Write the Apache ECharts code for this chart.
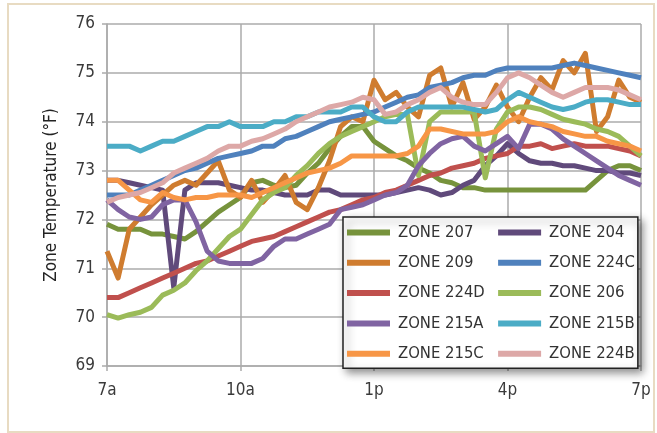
<!DOCTYPE html>
<html>
<head>
<meta charset="utf-8">
<title>Zone Temperature</title>
<script src="https://cdn.jsdelivr.net/npm/echarts@6/dist/echarts.min.js"></script>
</head>
<body style="margin:0;background:#fff;">
<div id="main" style="width:657px;height:433px;"></div>
<script>
// 15-minute readings, 7a to 7p
var times = ['7a','7:15a','7:30a','7:45a','8a','8:15a','8:30a','8:45a','9a','9:15a','9:30a','9:45a',
  '10a','10:15a','10:30a','10:45a','11a','11:15a','11:30a','11:45a','12p','12:15p','12:30p','12:45p',
  '1p','1:15p','1:30p','1:45p','2p','2:15p','2:30p','2:45p','3p','3:15p','3:30p','3:45p',
  '4p','4:15p','4:30p','4:45p','5p','5:15p','5:30p','5:45p','6p','6:15p','6:30p','6:45p','7p'];

var zone207 = [71.9,71.8,71.8,71.8,71.7,71.7,71.65,71.6,71.75,71.95,72.15,72.3,72.45,72.75,72.8,72.7,72.65,72.7,72.95,73.15,
  73.45,73.7,73.9,73.9,73.6,73.45,73.3,73.2,73.05,72.95,72.8,72.75,72.65,72.65,72.6,72.6,72.6,72.6,72.6,72.6,
  72.6,72.6,72.6,72.6,72.8,73.0,73.1,73.1,73.0];
var zone204 = [72.8,72.8,72.75,72.7,72.65,72.6,70.6,72.6,72.75,72.75,72.75,72.7,72.65,72.6,72.6,72.55,72.5,72.5,72.5,72.6,
  72.6,72.5,72.5,72.5,72.5,72.5,72.55,72.6,72.65,72.6,72.5,72.55,72.7,72.8,73.1,73.3,73.55,73.35,73.2,73.15,
  73.15,73.1,73.1,73.05,73.0,73.0,72.95,72.95,72.9];
var zone209 = [71.35,70.8,71.8,72.05,72.3,72.5,72.7,72.8,72.7,72.95,73.2,72.6,72.45,72.8,72.35,72.6,72.9,72.35,72.2,72.65,
  73.2,73.9,74.1,74.0,74.85,74.45,74.6,74.3,74.1,74.95,75.1,74.3,74.8,74.05,74.3,74.75,74.3,74.0,74.5,74.9,
  74.65,75.25,75.0,75.4,73.8,74.1,74.85,74.5,74.4];
var zone224C = [72.5,72.5,72.5,72.6,72.7,72.8,72.9,73.0,73.05,73.15,73.25,73.3,73.35,73.4,73.5,73.5,73.65,73.7,73.8,73.9,
  74.0,74.05,74.1,74.15,74.2,74.3,74.4,74.5,74.55,74.7,74.75,74.8,74.9,74.95,74.95,75.05,75.1,75.1,75.1,75.1,
  75.1,75.15,75.2,75.15,75.1,75.05,75.0,74.95,74.9];
var zone224D = [70.4,70.4,70.5,70.6,70.7,70.8,70.9,71.0,71.1,71.15,71.25,71.35,71.45,71.55,71.6,71.65,71.75,71.85,71.95,72.05,
  72.15,72.2,72.3,72.4,72.45,72.55,72.6,72.7,72.8,72.9,72.95,73.05,73.1,73.15,73.25,73.3,73.35,73.5,73.5,73.55,
  73.45,73.5,73.55,73.5,73.5,73.5,73.45,73.4,73.3];
var zone206 = [70.05,69.98,70.05,70.1,70.2,70.45,70.55,70.7,70.95,71.15,71.4,71.65,71.8,72.1,72.4,72.55,72.65,72.9,73.1,73.35,
  73.55,73.7,73.8,73.9,74.0,74.1,74.15,74.15,72.9,74.0,74.2,74.2,74.2,74.2,72.85,73.85,74.2,74.3,74.3,74.25,
  74.15,74.05,74.0,73.95,73.85,73.8,73.7,73.5,73.3];
var zone215A = [72.4,72.2,72.05,72.0,72.05,72.3,72.4,72.4,71.95,71.35,71.15,71.1,71.1,71.1,71.2,71.45,71.6,71.6,71.7,71.8,
  71.9,72.2,72.25,72.3,72.4,72.5,72.55,72.7,73.1,73.35,73.55,73.65,73.7,73.5,73.4,73.55,73.7,73.45,73.95,73.95,
  73.85,73.65,73.5,73.35,73.2,73.05,72.9,72.8,72.7];
var zone215B = [73.5,73.5,73.5,73.4,73.5,73.6,73.6,73.7,73.8,73.9,73.9,74.0,73.9,73.9,73.9,74.0,74.0,74.1,74.1,74.2,
  74.2,74.2,74.3,74.3,74.1,74.0,74.0,74.2,74.3,74.3,74.3,74.3,74.3,74.25,74.2,74.25,74.45,74.6,74.5,74.4,
  74.3,74.25,74.3,74.4,74.45,74.45,74.4,74.35,74.35];
var zone215C = [72.8,72.8,72.6,72.4,72.35,72.55,72.45,72.4,72.45,72.45,72.5,72.5,72.5,72.45,72.55,72.65,72.75,72.85,72.95,73.0,
  73.05,73.15,73.3,73.3,73.3,73.3,73.3,73.35,73.5,73.85,73.85,73.8,73.75,73.75,73.75,73.8,74.0,74.1,74.0,73.95,
  73.9,73.8,73.75,73.7,73.7,73.6,73.55,73.5,73.4];
var zone224B = [72.35,72.45,72.5,72.55,72.65,72.75,72.95,73.05,73.15,73.25,73.4,73.5,73.5,73.6,73.65,73.75,73.85,74.0,74.1,74.2,
  74.3,74.35,74.4,74.5,74.45,74.15,74.2,74.35,74.45,74.6,74.7,74.5,74.4,74.35,74.35,74.6,74.9,75.0,74.9,74.75,
  74.6,74.5,74.6,74.7,74.7,74.7,74.65,74.55,74.45];

var yTicks = [69, 70, 71, 72, 73, 74, 75, 76];

var zones = [
  ['ZONE 207', zone207, '#77933C'],
  ['ZONE 204', zone204, '#604A7B'],
  ['ZONE 209', zone209, '#CF7C2F'],
  ['ZONE 224C', zone224C, '#4F81BD'],
  ['ZONE 224D', zone224D, '#C0504D'],
  ['ZONE 206', zone206, '#9BBB59'],
  ['ZONE 215A', zone215A, '#8064A2'],
  ['ZONE 215B', zone215B, '#4BACC6'],
  ['ZONE 215C', zone215C, '#F79646'],
  ['ZONE 224B', zone224B, '#DDA8A7']
];
// legend fills column by column
var legendCol1 = ['ZONE 207','ZONE 209','ZONE 224D','ZONE 215A','ZONE 215C'];
var legendCol2 = ['ZONE 204','ZONE 224C','ZONE 206','ZONE 215B','ZONE 224B'];

var font = "'Liberation Sans Narrow', 'DejaVu Sans Condensed', 'Arial Narrow', sans-serif";
var gridColor = '#ABABAB';
var legendFont = { fontSize: 16.5, color: '#333', fontFamily: font, padding: [0, 0, 0, 3] };

var legendData = legendCol1.map(function (n) {
  return { name: n, textStyle: Object.assign({ width: 99 }, legendFont) };
}).concat(legendCol2.map(function (n) {
  return { name: n, textStyle: Object.assign({ width: 73 }, legendFont) };
}));

var chart = echarts.init(document.getElementById('main'));
chart.setOption({
  animation: false,
  backgroundColor: '#fff',
  graphic: [{
    type: 'rect',
    shape: { x: 8, y: 4, width: 646, height: 428 },
    style: { fill: null, stroke: '#E8DBC2', lineWidth: 2 },
    silent: true
  }],
  grid: { left: 107, right: 16, top: 24, bottom: 67 },
  xAxis: {
    type: 'category',
    data: times,
    boundaryGap: false,
    axisLine: { lineStyle: { color: gridColor, width: 1.5 } },
    axisTick: { interval: 11, length: 5, lineStyle: { color: gridColor, width: 1.5 } },
    axisLabel: { interval: 11, margin: 16, fontSize: 17, color: '#3a3a3a', fontFamily: font },
    splitLine: { show: true, interval: 11, lineStyle: { color: gridColor, width: 1.5 } }
  },
  yAxis: {
    type: 'value',
    min: yTicks[0],
    max: yTicks[yTicks.length - 1],
    interval: 1,
    name: 'Zone Temperature (°F)',
    nameLocation: 'middle',
    nameGap: 47,
    nameTextStyle: { fontSize: 17, color: '#222', fontFamily: font },
    axisLine: { show: true, lineStyle: { color: gridColor, width: 1.5 } },
    axisTick: { show: true, length: 5, lineStyle: { color: gridColor, width: 1.5 } },
    axisLabel: { margin: 12, fontSize: 17, color: '#3a3a3a', fontFamily: font },
    splitLine: { lineStyle: { color: gridColor, width: 1.5 } }
  },
  legend: {
    data: legendData,
    orient: 'vertical',
    left: 343,
    top: 217,
    height: 156,
    padding: [7, 3, 6, 4],
    itemWidth: 43,
    itemHeight: 6,
    itemGap: 13.3,
    icon: 'rect',
    backgroundColor: '#fff',
    borderColor: '#222',
    borderWidth: 1.5,
    borderRadius: 0,
    shadowBlur: 8,
    shadowColor: 'rgba(0,0,0,0.45)',
    shadowOffsetX: 4,
    shadowOffsetY: 4,
    selectedMode: false,
    textStyle: legendFont
  },
  series: zones.map(function (z) {
    return {
      name: z[0],
      type: 'line',
      data: z[1],
      showSymbol: false,
      color: z[2],
      lineStyle: { width: 5, color: z[2], join: 'round' },
      emphasis: { disabled: true }
    };
  })
});
</script>
</body>
</html>
